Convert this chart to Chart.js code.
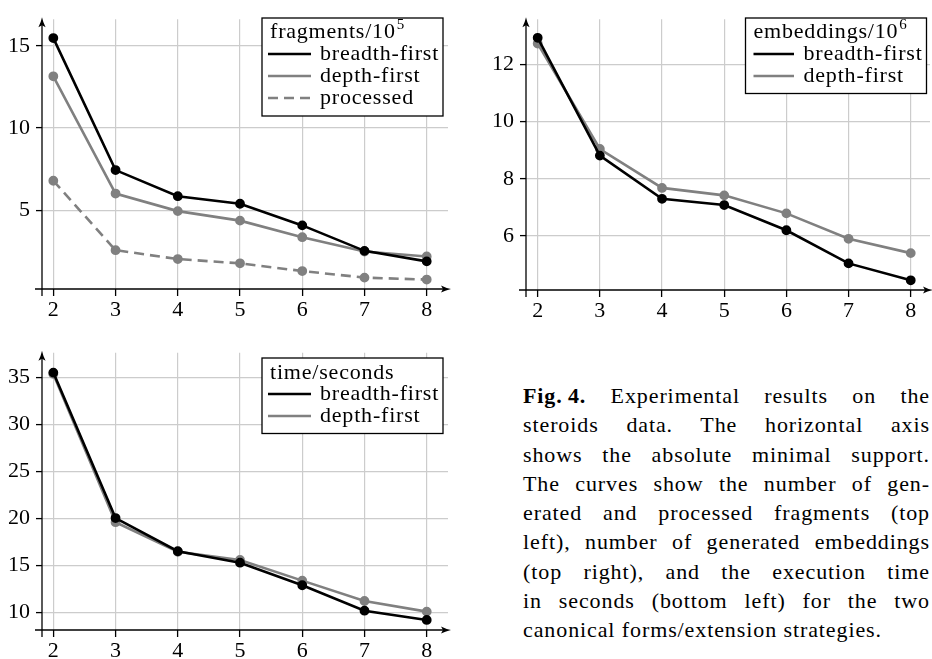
<!DOCTYPE html>
<html><head><meta charset="utf-8">
<script src="https://cdn.jsdelivr.net/npm/chart.js@4.4.1/dist/chart.umd.min.js"></script>
<style>
html,body{margin:0;padding:0;background:#fff;}
body{width:932px;height:659px;overflow:hidden;position:relative;}
canvas{position:absolute;}
#caption{position:absolute;left:523px;top:381px;width:407px;font-family:'Liberation Serif',serif;font-size:22px;line-height:29.3px;color:#000;letter-spacing:0.9px;}
#caption div{text-align:justify;text-align-last:justify;}
#caption div.last{text-align:left;text-align-last:left;}
</style>
</head><body>
<canvas id="c1" width="460" height="320" style="left:0;top:0"></canvas>
<canvas id="c2" width="462" height="320" style="left:470px;top:0"></canvas>
<canvas id="c3" width="460" height="329" style="left:0;top:330px"></canvas>
<div id="caption">
<div><b>Fig.&#8201;4.</b> Experimental results on the</div>
<div>steroids data. The horizontal axis</div>
<div>shows the absolute minimal support.</div>
<div>The curves show the number of gen-</div>
<div>erated and processed fragments (top</div>
<div>left), number of generated embeddings</div>
<div>(top right), and the execution time</div>
<div>in seconds (bottom left) for the two</div>
<div class="last">canonical forms/extension strategies.</div>
</div>
<script>
// ---- data ----
const minSupport = [2, 3, 4, 5, 6, 7, 8];
const fragBreadth   = [15.48, 7.44, 5.85, 5.39, 4.07, 2.52, 1.88];
const fragDepth     = [13.15, 6.01, 4.94, 4.36, 3.35, 2.48, 2.18];
const fragProcessed = [6.79, 2.56, 2.02, 1.76, 1.29, 0.89, 0.77];
const embBreadth = [12.93, 8.81, 7.30, 7.08, 6.20, 5.04, 4.45];
const embDepth   = [12.73, 9.04, 7.68, 7.42, 6.79, 5.90, 5.40];
const timeBreadth = [35.54, 20.04, 16.50, 15.28, 12.88, 10.17, 9.18];
const timeDepth   = [35.40, 19.60, 16.45, 15.57, 13.37, 11.20, 10.07];
const fragTicks = [5, 10, 15];
const embTicks  = [6, 8, 10, 12];
const timeTicks = [10, 15, 20, 25, 30, 35];
const seriesNames = ['breadth-first', 'depth-first', 'processed'];

const FONT = "'Liberation Serif', serif";
Chart.defaults.font.family = FONT;
Chart.defaults.font.size = 22;
Chart.defaults.color = '#000';

const pts = vals => minSupport.map((x, i) => ({x: x, y: vals[i]}));

const axisArrows = {
  id: 'axisArrows',
  beforeDatasetsDraw(chart) {
    const ctx = chart.ctx, a = chart.chartArea;
    const x0 = a.left, y0 = a.bottom;
    ctx.save();
    ctx.strokeStyle = '#000'; ctx.fillStyle = '#000'; ctx.lineWidth = 1.3;
    const tipX = a.right + 3, tipY = a.top - 2;
    ctx.beginPath(); ctx.moveTo(x0 - 7, y0); ctx.lineTo(tipX - 6, y0); ctx.stroke();
    ctx.beginPath(); ctx.moveTo(x0, y0 + 7); ctx.lineTo(x0, tipY + 6); ctx.stroke();
    // arrow heads
    ctx.beginPath();
    ctx.moveTo(tipX, y0);
    ctx.quadraticCurveTo(tipX - 5, y0 - 1, tipX - 10, y0 - 3.6);
    ctx.lineTo(tipX - 8, y0);
    ctx.lineTo(tipX - 10, y0 + 3.6);
    ctx.quadraticCurveTo(tipX - 5, y0 + 1, tipX, y0);
    ctx.fill();
    ctx.beginPath();
    ctx.moveTo(x0, tipY);
    ctx.quadraticCurveTo(x0 - 1, tipY + 5, x0 - 3.6, tipY + 10);
    ctx.lineTo(x0, tipY + 8);
    ctx.lineTo(x0 + 3.6, tipY + 10);
    ctx.quadraticCurveTo(x0 + 1, tipY + 5, x0, tipY);
    ctx.fill();
    ctx.restore();
  }
};

const boxLegend = {
  id: 'boxLegend',
  afterDraw(chart, args, o) {
    if (!o || !o.title) return;
    const ctx = chart.ctx;
    ctx.save();
    ctx.fillStyle = '#fff';
    ctx.fillRect(o.x, o.y, o.w, o.h);
    ctx.strokeStyle = '#000'; ctx.lineWidth = 1.3;
    ctx.strokeRect(o.x, o.y, o.w, o.h);
    ctx.fillStyle = '#000';
    ctx.textBaseline = 'alphabetic'; ctx.textAlign = 'left';
    try { ctx.letterSpacing = '0.8px'; } catch (e) {}
    ctx.font = '22px ' + FONT;
    ctx.fillText(o.title, o.titleX, o.titleY);
    if (o.sup) {
      const w = ctx.measureText(o.title).width;
      ctx.font = '15px ' + FONT;
      ctx.fillText(o.sup, o.titleX + w + 1, o.titleY - 9);
    }
    ctx.font = '22px ' + FONT;
    chart.data.datasets.forEach((ds, i) => {
      const by = o.row0 + i * o.rowStep;
      ctx.save();
      ctx.strokeStyle = ds.borderColor;
      ctx.lineWidth = ds.borderWidth;
      ctx.setLineDash(ds.borderDash || []);
      ctx.beginPath(); ctx.moveTo(o.lineX0, by - 6); ctx.lineTo(o.lineX1, by - 6); ctx.stroke();
      ctx.restore();
      ctx.fillText(ds.label, o.textX, by);
    });
    ctx.restore();
  }
};

function ds(label, vals, color, dash) {
  return {
    label: label, data: pts(vals), borderColor: color, backgroundColor: color,
    pointBackgroundColor: color, pointBorderColor: color, borderWidth: 2.6,
    pointRadius: 3.6, pointHoverRadius: 3.6, borderDash: dash || [], tension: 0, fill: false
  };
}

function makeChart(id, datasets, o) {
  return new Chart(document.getElementById(id), {
    type: 'line',
    data: {datasets: datasets},
    plugins: [axisArrows, boxLegend],
    options: {
      responsive: false, animation: false, devicePixelRatio: 1,
      layout: {autoPadding: false, padding: {left: 0, top: o.top, right: o.right, bottom: 0}},
      plugins: {legend: {display: false}, tooltip: {enabled: false}, boxLegend: o.legend},
      events: [],
      scales: {
        x: {
          type: 'linear', min: o.xmin, max: o.xmax,
          afterBuildTicks: s => { s.ticks = minSupport.map(v => ({value: v})); },
          afterFit: s => { s.height = o.xh; },
          grid: {color: '#cccccc', lineWidth: 1.2, tickColor: '#000', tickLength: 7, tickWidth: 1.3, drawTicks: true},
          border: {display: false},
          ticks: {padding: 1, color: '#000', font: {size: 22}, maxRotation: 0, autoSkip: false}
        },
        y: {
          type: 'linear', min: o.ymin, max: o.ymax,
          afterBuildTicks: s => { s.ticks = o.yticks.map(v => ({value: v})); },
          afterFit: s => { s.width = o.yw; },
          grid: {color: '#cccccc', lineWidth: 1.2, tickColor: '#000', tickLength: 6, tickWidth: 1.3, drawTicks: true},
          border: {display: false},
          ticks: {padding: 6, color: '#000', font: {size: 22}, autoSkip: false}
        }
      }
    }
  });
}

const BLACK = '#000000', GRAY = '#808080';

makeChart('c1', [
  ds(seriesNames[0], fragBreadth, BLACK),
  ds(seriesNames[1], fragDepth, GRAY),
  ds(seriesNames[2], fragProcessed, GRAY, [10, 6])
], {
  top: 13, right: 12, xh: 31, yw: 42,
  xmin: 1.818, xmax: 8.342, ymin: 0.196, ymax: 16.63, yticks: fragTicks,
  legend: {x: 262, y: 18, w: 181, h: 98, title: 'fragments/10', sup: '5', titleX: 270, titleY: 38,
           row0: 60, rowStep: 22, lineX0: 268, lineX1: 311, textX: 320}
});

makeChart('c2', [
  ds(seriesNames[0], embBreadth, BLACK),
  ds(seriesNames[1], embDepth, GRAY)
], {
  top: 13, right: 2, xh: 30, yw: 56,
  xmin: 1.812, xmax: 8.31, ymin: 4.11, ymax: 13.58, yticks: embTicks,
  legend: {x: 275.5, y: 18, w: 181, h: 75.5, title: 'embeddings/10', sup: '6', titleX: 283.5, titleY: 38,
           row0: 60, rowStep: 22, lineX0: 283.5, lineX1: 324, textX: 333.5}
});

makeChart('c3', [
  ds(seriesNames[0], timeBreadth, BLACK),
  ds(seriesNames[1], timeDepth, GRAY)
], {
  top: 22.7, right: 12, xh: 29, yw: 42,
  xmin: 1.818, xmax: 8.342, ymin: 8.11, ymax: 37.66, yticks: timeTicks,
  legend: {x: 262, y: 28, w: 181, h: 75.5, title: 'time/seconds', sup: '', titleX: 270, titleY: 48.5,
           row0: 70, rowStep: 22, lineX0: 268, lineX1: 311, textX: 320}
});
</script>
</body></html>
